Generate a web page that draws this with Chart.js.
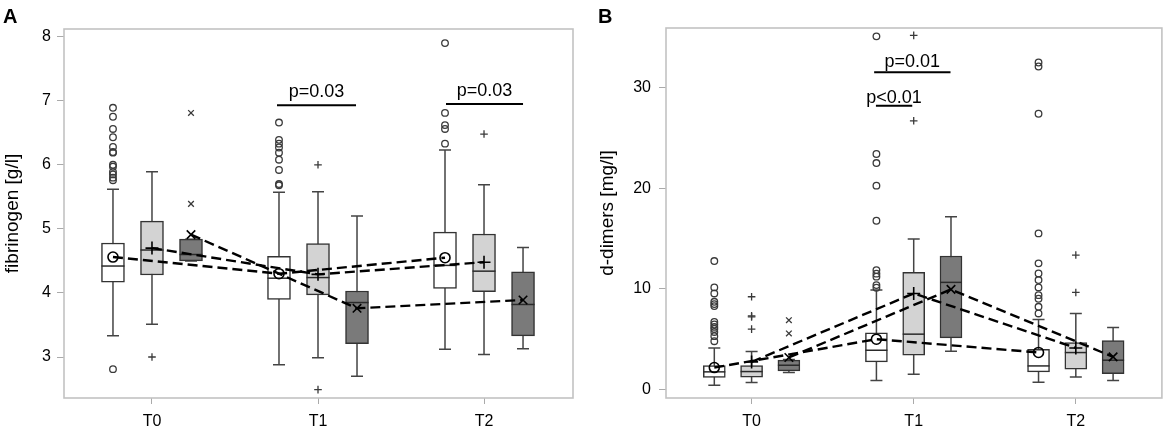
<!DOCTYPE html>
<html><head><meta charset="utf-8">
<script src="https://cdn.jsdelivr.net/npm/chart.js@4.4.1/dist/chart.umd.min.js"></script>
<style>
html,body{margin:0;padding:0;background:#fff;}
#wrap{display:flex;width:1170px;height:433px;}
canvas{display:block;}
</style></head><body>
<div id="wrap"><canvas id="cA" width="585" height="433"></canvas><canvas id="cB" width="585" height="433"></canvas></div>
<script>
// ---------- data ----------
const timepoints = ['T0', 'T1', 'T2'];

// Panel A: fibrinogen [g/l]; each box = [whiskerLow, Q1, median, Q3, whiskerHigh] per timepoint
const fibTicks = [3, 4, 5, 6, 7, 8];
const fibBoxWhite = [[3.33, 4.17, 4.42, 4.78, 5.62], [2.88, 3.90, 4.23, 4.57, 5.57], [3.12, 4.07, 4.43, 4.95, 6.23]];
const fibBoxLight = [[3.51, 4.28, 4.67, 5.12, 5.89], [2.99, 3.97, 4.24, 4.77, 5.58], [3.04, 4.02, 4.34, 4.92, 5.69]];
const fibBoxDark  = [[4.50, 4.50, 4.60, 4.84, 4.84], [2.70, 3.21, 3.85, 4.03, 5.20], [3.13, 3.33, 3.82, 4.33, 4.71]];
const fibMeanWhite = [4.56, 4.30, 4.55];
const fibMeanLight = [4.70, 4.29, 4.48];
const fibMeanDark  = [4.91, 3.76, 3.89];
const fibOutWhite = [[6.89, 6.75, 6.56, 6.43, 6.28, 6.20, 6.19, 6.00, 5.97, 5.89, 5.85, 5.80, 5.76, 2.81],
                     [6.66, 6.39, 6.33, 6.27, 6.19, 6.08, 5.92, 5.70, 5.68],
                     [7.90, 6.81, 6.62, 6.56, 6.33]];
const fibOutLight = [[3.00], [6.00, 2.49], [6.48]];
const fibOutDark  = [[6.81, 5.39], [], []];
const fibPLabels = ['p=0.03', 'p=0.03'];
const fibPFrom = [0.753, 1.771];
const fibPTo = [1.229, 2.235];
const fibPLevel = [6.93, 6.95];

// Panel B: d-dimers [mg/l]
const ddTicks = [0, 10, 20, 30];
const ddBoxWhite = [[0.40, 1.17, 1.73, 2.36, 4.10], [0.87, 2.72, 3.88, 5.61, 9.86], [0.70, 1.73, 2.32, 3.98, 6.94]];
const ddBoxLight = [[0.67, 1.20, 1.76, 2.36, 3.75], [1.49, 3.39, 5.48, 11.62, 14.94], [1.23, 1.99, 3.65, 4.65, 7.54]];
const ddBoxDark  = [[1.66, 1.82, 2.39, 2.89, 2.95], [3.78, 5.11, 10.63, 13.25, 17.16], [0.87, 1.56, 2.89, 4.85, 6.15]];
const ddMeanWhite = [2.16, 4.98, 3.66];
const ddMeanLight = [2.72, 9.53, 4.11];
const ddMeanDark  = [3.16, 9.93, 3.22];
const ddOutWhite = [[12.75, 10.13, 9.53, 8.70, 8.47, 8.27, 6.70, 6.44, 6.20, 6.00, 5.70, 5.28, 4.78],
                    [35.1, 23.4, 22.5, 20.25, 16.76, 11.85, 11.5, 11.2, 10.36, 10.1],
                    [32.5, 32.1, 27.4, 15.5, 12.52, 11.52, 10.86, 10.13, 9.36, 9.0, 8.2, 7.54]];
const ddOutLight = [[9.2, 7.3, 7.2, 5.98], [35.2, 26.7], [13.35, 9.63]];
const ddOutDark  = [[6.87, 5.55], [], []];
const ddPLabels = ['p=0.01', 'p<0.01'];
const ddPFrom = [0.756, 0.767];
const ddPTo = [1.227, 0.991];
const ddPLevel = [31.54, 28.19];

// ---------- styles ----------
Chart.defaults.font.family = '"Liberation Sans", Arial, sans-serif';
const fillColors = ['#ffffff', '#d3d3d3', '#7a7a7a'];
const markerStyles = ['circle', 'cross', 'crossRot'];
const outlierRadius = [3.3, 3.8, 4];
const meanRadius = [5, 6.5, 6];

const boxPlugin = {
  id: 'boxParts',
  beforeDatasetsDraw(chart) {
    const {ctx, scales: {x, y}} = chart;
    ctx.save();
    ctx.strokeStyle = '#444';
    ctx.lineWidth = 1.5;
    chart.data.datasets.forEach(ds => {
      if (!ds.boxStats) return;
      ds.boxStats.forEach((b, i) => {
        const px = x.getPixelForValue(i + ds.groupOffset);
        const lo = y.getPixelForValue(b[0]), hi = y.getPixelForValue(b[4]);
        const cap = ds.capHalf;
        ctx.beginPath();
        ctx.moveTo(px, lo); ctx.lineTo(px, hi);
        ctx.moveTo(px - cap, lo); ctx.lineTo(px + cap, lo);
        ctx.moveTo(px - cap, hi); ctx.lineTo(px + cap, hi);
        ctx.stroke();
      });
    });
    ctx.restore();
  },
  afterDatasetDraw(chart, args) {
    const ds = chart.data.datasets[args.index];
    if (!ds.boxStats) return;
    const {ctx, scales: {x, y}} = chart;
    ctx.save();
    ctx.strokeStyle = '#2a2a2a';
    ctx.lineWidth = 1.5;
    ds.boxStats.forEach((b, i) => {
      const px = x.getPixelForValue(i + ds.groupOffset);
      const py = y.getPixelForValue(b[2]);
      ctx.beginPath();
      ctx.moveTo(px - ds.barThickness / 2, py);
      ctx.lineTo(px + ds.barThickness / 2, py);
      ctx.stroke();
    });
    ctx.restore();
  },
  afterDraw(chart) {
    const {ctx, chartArea: a, scales: {x, y}} = chart;
    const o = chart.options.plugins.boxParts;
    ctx.save();
    ctx.strokeStyle = '#c2c2c2';
    ctx.lineWidth = 1.6;
    ctx.strokeRect(a.left, a.top, a.right - a.left, a.bottom - a.top);
    // panel letter
    ctx.fillStyle = '#000';
    ctx.font = 'bold 20px "Liberation Sans", Arial, sans-serif';
    ctx.textAlign = 'left';
    ctx.textBaseline = 'alphabetic';
    ctx.fillText(o.letter, o.letterX, 23);
    // significance brackets
    ctx.font = '18px "Liberation Sans", Arial, sans-serif';
    ctx.textAlign = 'center';
    ctx.strokeStyle = '#000';
    ctx.lineWidth = 2;
    o.labels.forEach((lab, k) => {
      const x1 = x.getPixelForValue(o.from[k]), x2 = x.getPixelForValue(o.to[k]);
      const py = y.getPixelForValue(o.level[k]);
      ctx.beginPath(); ctx.moveTo(x1, py); ctx.lineTo(x2, py); ctx.stroke();
      ctx.fillText(lab, (x1 + x2) / 2, py - o.textGap[k]);
    });
    ctx.restore();
  }
};

function buildPanel(id, p) {
  const datasets = [];
  p.boxes.forEach((box, g) => {
    datasets.push({
      type: 'bar', boxStats: box, groupOffset: p.offsets[g], capHalf: p.capHalf,
      data: box.map((b, i) => ({x: i + p.offsets[g], y: [b[1], b[3]]})),
      backgroundColor: fillColors[g], borderColor: '#333', borderWidth: 1.5,
      borderSkipped: false, barThickness: p.barW, grouped: false, order: 3
    });
  });
  p.outliers.forEach((out, g) => {
    const pts = [];
    out.forEach((arr, i) => arr.forEach(v => pts.push({x: i + p.offsets[g], y: v})));
    datasets.push({
      type: 'scatter', data: pts, showLine: false, pointStyle: markerStyles[g],
      pointRadius: outlierRadius[g], pointBorderColor: '#3a3a3a', pointBackgroundColor: 'rgba(0,0,0,0)',
      pointBorderWidth: 1.3, order: 2
    });
  });
  p.means.forEach((m, g) => {
    datasets.push({
      type: 'line', data: m.map((v, i) => ({x: i + p.offsets[g], y: v})),
      borderColor: '#000', borderWidth: 2.4, borderDash: [10, 5], fill: false, tension: 0,
      pointStyle: markerStyles[g], pointRadius: meanRadius[g], pointBorderColor: '#000',
      pointBackgroundColor: 'rgba(0,0,0,0)', pointBorderWidth: 1.6, order: 1
    });
  });
  return new Chart(document.getElementById(id), {
    type: 'bar',
    data: {datasets},
    plugins: [boxPlugin],
    options: {
      responsive: false, animation: false, devicePixelRatio: 1,
      layout: {padding: {left: 0, right: p.padRight, top: p.padTop, bottom: 0}},
      plugins: {
        legend: {display: false}, tooltip: {enabled: false},
        boxParts: {letter: p.letter, letterX: p.letterX, labels: p.pLabels, from: p.pFrom, to: p.pTo, level: p.pLevel, textGap: p.textGap}
      },
      scales: {
        x: {
          type: 'linear', min: p.xMin, max: p.xMax, offset: false,
          afterBuildTicks: s => { s.ticks = timepoints.map((t, i) => ({value: i})); },
          afterFit: s => { s.height = p.xAxisH; },
          ticks: {callback: v => timepoints[v] ?? '', font: {size: 16}, color: '#000', padding: 8, maxRotation: 0, autoSkip: false},
          grid: {drawOnChartArea: false, drawTicks: true, tickLength: 6, color: '#aaa', offset: false},
          border: {display: false}
        },
        y: {
          type: 'linear', min: p.yMin, max: p.yMax,
          afterBuildTicks: s => { s.ticks = p.yTicks.map(v => ({value: v})); },
          afterFit: s => { s.width = p.yAxisW; },
          ticks: {font: {size: 16}, color: '#000', padding: p.yTickPad},
          grid: {drawOnChartArea: false, drawTicks: true, tickLength: 7, color: '#aaa'},
          border: {display: false},
          title: {display: true, text: p.yTitle, font: {size: 19}, color: '#000', padding: {top: p.titlePad, bottom: 0}}
        }
      }
    }
  });
}

buildPanel('cA', {
  letter: 'A', letterX: 3,
  boxes: [fibBoxWhite, fibBoxLight, fibBoxDark],
  means: [fibMeanWhite, fibMeanLight, fibMeanDark],
  outliers: [fibOutWhite, fibOutLight, fibOutDark],
  offsets: [-0.235, 0, 0.235], barW: 23, capHalf: 6,
  xMin: -0.53, xMax: 2.536, yMin: 2.36, yMax: 8.12, yTicks: fibTicks,
  yAxisW: 64, xAxisH: 35, padRight: 12, padTop: 29, yTickPad: 6, titlePad: 1,
  yTitle: 'fibrinogen [g/l]',
  pLabels: fibPLabels, pFrom: fibPFrom, pTo: fibPTo, pLevel: fibPLevel, textGap: [8, 8]
});

buildPanel('cB', {
  letter: 'B', letterX: 13,
  boxes: [ddBoxWhite, ddBoxLight, ddBoxDark],
  means: [ddMeanWhite, ddMeanLight, ddMeanDark],
  outliers: [ddOutWhite, ddOutLight, ddOutDark],
  offsets: [-0.23, 0, 0.23], barW: 22, capHalf: 6,
  xMin: -0.528, xMax: 2.531, yMin: -0.87, yMax: 35.93, yTicks: ddTicks,
  yAxisW: 81, xAxisH: 35, padRight: 6, padTop: 28, yTickPad: 8, titlePad: 11,
  yTitle: 'd-dimers [mg/l]',
  pLabels: ddPLabels, pFrom: ddPFrom, pTo: ddPTo, pLevel: ddPLevel, textGap: [5, 3]
});
</script>
</body></html>
